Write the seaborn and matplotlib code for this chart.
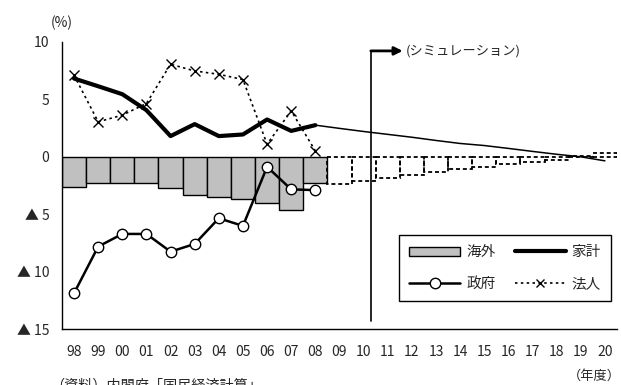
import numpy as np
import pandas as pd
import matplotlib
matplotlib.use('Agg')
import matplotlib.pyplot as plt
import seaborn as sns
from matplotlib.lines import Line2D
from matplotlib.patches import Patch

# data
years = ['98', '99', '00', '01', '02', '03', '04', '05', '06', '07', '08',
         '09', '10', '11', '12', '13', '14', '15', '16', '17', '18', '19', '20']
actual_years = years[:11]          # 98-08
sim_bar_years = years[11:]         # 09-20
sim_line_years = years[10:]        # 08-20

kaigai = [-2.6, -2.25, -2.25, -2.25, -2.7, -3.3, -3.5, -3.7, -4.0, -4.6, -2.3]
kaigai_sim = [-2.4, -2.1, -1.8, -1.6, -1.35, -1.1, -0.85, -0.65, -0.45, -0.25, 0.1, 0.3]
kakei = [6.8, 6.13, 5.44, 4.05, 1.8, 2.84, 1.8, 1.94, 3.24, 2.25, 2.75]
kakei_sim = [2.75, 2.47, 2.2, 1.95, 1.7, 1.42, 1.16, 0.98, 0.73, 0.47, 0.22, 0.0, -0.35]
seifu = [-11.85, -7.8, -6.7, -6.7, -8.24, -7.57, -5.34, -6.0, -0.87, -2.83, -2.89]
houjin = [7.09, 3.04, 3.62, 4.63, 8.04, 7.46, 7.17, 6.71, 1.1, 3.99, 0.52]

ytick_vals = [10, 5, 0, -5, -10, -15]
ytick_labels = ['10', '5', '0', '▲ 5', '▲ 10', '▲ 15']

sns.set_style('white')
plt.rcParams['font.family'] = ['Noto Sans CJK JP', 'DejaVu Sans']

fig = plt.figure(figsize=(6.21, 3.85), dpi=100)
ax = fig.add_axes([0.0998, 0.1442, 0.8937, 0.7475])

pos = {y: i for i, y in enumerate(years)}

# bars
df_bar = pd.DataFrame({'year': actual_years, 'v': kaigai})
sns.barplot(data=df_bar, x='year', y='v', order=years, color='#c0c0c0',
            saturation=1, edgecolor='black', linewidth=1, width=1, ax=ax)
df_sim = pd.DataFrame({'year': sim_bar_years, 'v': kaigai_sim})
sns.barplot(data=df_sim, x='year', y='v', order=years, fill=False,
            color='black', linewidth=1.3, width=1, linestyle=(0, (2.2, 1.6)), ax=ax)

# lines
x_act = [pos[y] for y in actual_years]
x_sim = [pos[y] for y in sim_line_years]
sns.lineplot(x=x_sim, y=kakei_sim, color='black', linewidth=1.1, ax=ax)
sns.lineplot(x=x_act, y=houjin, color='black', linewidth=1.2, linestyle=(0, (1.5, 2)),
             marker='x', markersize=6.5, markeredgecolor='black', markeredgewidth=1, ax=ax)
sns.lineplot(x=x_act, y=kakei, color='black', linewidth=3, ax=ax)
sns.lineplot(x=x_act, y=seifu, color='black', linewidth=1.8, marker='o', markersize=7.5,
             markerfacecolor='white', markeredgecolor='black', markeredgewidth=1, ax=ax)

ax.set_xlim(-0.5, 22.5)
ax.set_ylim(-15, 10)
ax.set_xlabel('')
ax.set_ylabel('')
ax.set_xticks(np.arange(-0.5, 23, 1))
ax.set_xticklabels([])
ax.set_xticks(np.arange(len(years)), minor=True)
ax.set_xticklabels(years, minor=True, fontsize=10)
ax.tick_params(axis='x', which='major', direction='out', length=4, width=1, color='black')
ax.tick_params(axis='x', which='minor', length=0, pad=11)
ax.set_yticks(ytick_vals)
ax.set_yticklabels(ytick_labels, fontsize=10)
ax.tick_params(axis='y', direction='in', length=4, width=1, color='black', pad=9)
sns.despine(ax=ax)
for s in ['left', 'bottom']:
    ax.spines[s].set_color('black')
    ax.spines[s].set_linewidth(1)

# simulation marker
ax.axvline(12.3, ymin=0.028, ymax=0.968, color='black', linewidth=1.2)
ax.annotate('', xy=(13.62, 9.2), xytext=(12.3, 9.2),
            arrowprops=dict(arrowstyle='-|>', color='black', lw=2,
                            mutation_scale=12, shrinkA=0, shrinkB=0))
ax.text(13.75, 9.2, '(シミュレーション)', va='center', ha='left', fontsize=9.5)

# legend
handles = [
    Patch(facecolor='#c0c0c0', edgecolor='black', linewidth=1),
    Line2D([], [], color='black', lw=1.8, marker='o', ms=7.5, mfc='white', mec='black'),
    Line2D([], [], color='black', lw=3),
    Line2D([], [], color='black', lw=1.2, ls=(0, (1.5, 2)), marker='x', ms=6, mec='black'),
]
leg = ax.legend(handles, ['海外', '政府', '家計', '法人'], ncol=2, loc='lower right',
                bbox_to_anchor=(0.989, 0.099), borderaxespad=0, frameon=True,
                fancybox=False, edgecolor='black', framealpha=1, handlelength=3.5,
                handleheight=0.6, handletextpad=0.4, columnspacing=1.3,
                labelspacing=1.2, fontsize=10.5, borderpad=0.7)
leg.get_frame().set_linewidth(1)

fig.text(62 / 621, 1 - 23 / 385, '(%)', ha='center', va='center', fontsize=10)
fig.text(1.0, 1 - 376 / 385, '（年度）', ha='right', va='center', fontsize=9.5)
fig.text(50 / 621, 1 - 379 / 385, '（資料）内閣府「国民経済計算」', ha='left', va='top', fontsize=10.2)

fig.savefig('out.png', dpi=100)
